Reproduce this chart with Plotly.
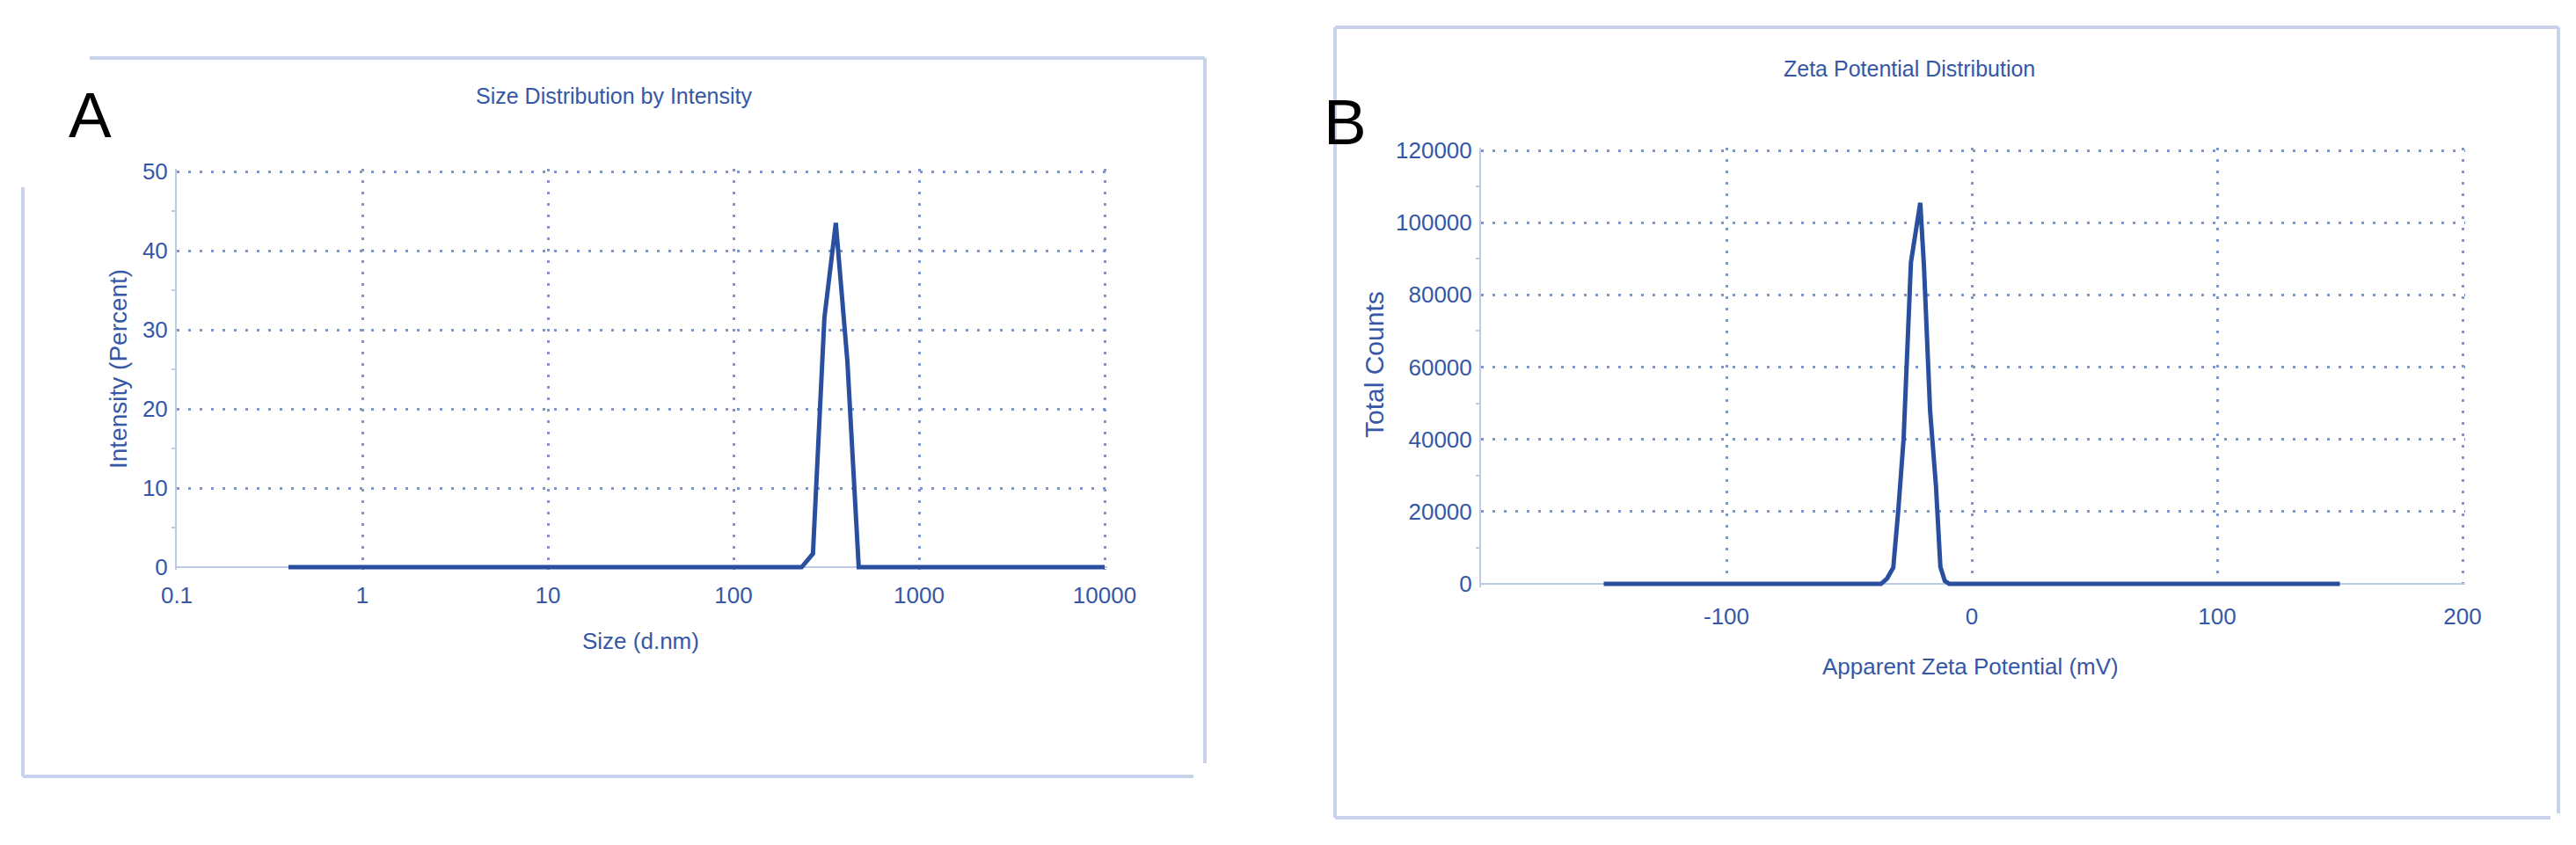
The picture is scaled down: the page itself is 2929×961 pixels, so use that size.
import plotly.graph_objects as go

# ---- data ----
# A: size distribution by intensity (log x)
size_nm = [0.4, 1, 10, 100, 233, 268, 309, 356, 411, 473, 1000, 10000]
intensity_pct = [0, 0, 0, 0, 0, 1.7, 31.5, 43.5, 26.0, 0, 0, 0]
size_ticks = [0.1, 1, 10, 100, 1000, 10000]
size_tick_text = ["0.1", "1", "10", "100", "1000", "10000"]
intensity_ticks = [0, 10, 20, 30, 40, 50]

# B: zeta potential distribution
zeta_mv = [-150, -37, -34.5, -32, -30, -27.8, -24.8, -22.5, -21, -19.5, -17, -14.6, -12.8, -11, -9.2, 150]
total_counts = [0, 0, 1500, 4500, 20000, 40000, 89000, 100000, 105500, 88000, 48000, 27000, 4700, 800, 0, 0]
zeta_ticks = [-100, 0, 100, 200]
zeta_tick_text = ["-100", "0", "100", "200"]
count_ticks = [0, 20000, 40000, 60000, 80000, 100000, 120000]
count_tick_text = ["0", "20000", "40000", "60000", "80000", "100000", "120000"]

W, H = 2929, 961
OFF = 8  # the page body adds an 8px margin, so positions are shifted back by it

def px(x):
    return (x - OFF) / W

def py(y):
    return 1 - (y - OFF) / H

LINE = "#2a4f9f"
TEXT = "#3557a6"
GRID = "#7f96cc"
AXIS = "#bccae6"
FRAME = "#c8d2ea"
FONT = "Liberation Sans, Arial, sans-serif"

fig = go.Figure()
fig.add_trace(go.Scatter(x=size_nm, y=intensity_pct, mode="lines",
                         line=dict(color=LINE, width=5), xaxis="x", yaxis="y",
                         showlegend=False, hoverinfo="x+y"))
fig.add_trace(go.Scatter(x=zeta_mv, y=total_counts, mode="lines",
                         line=dict(color=LINE, width=5), xaxis="x2", yaxis="y2",
                         showlegend=False, hoverinfo="x+y"))

# plot boxes in pixels: A x 0.1 -> 201, 10000 -> 1256 ; y 50 -> 195, 0 -> 645
#                       B x -200 -> 1684, 200 -> 2800 ; y 120000 -> 171, 0 -> 664
# ranges are padded a little so the edge grid lines and the zero-level trace are not clipped
xA0, xA1 = 201, 1256
dec = (xA1 - xA0) / 5
xA_pad = 0.012
yA_lo, yA_hi = -0.35, 50.3
yApp = 450 / 50
xB0, xB1 = 1684, 2800
xB_lo, xB_hi = -200, 201
xBpp = (xB1 - xB0) / 400
yB0, yB1 = 664, 171
yB_lo, yB_hi = -900, 120700
yBpp = (yB0 - yB1) / 120000

common = dict(showgrid=True, gridcolor=GRID, gridwidth=3, griddash="3px,10px",
              tickfont=dict(family=FONT, size=26, color=TEXT), ticks="", automargin=False)

fig.update_layout(
    width=W, height=H,
    margin=dict(l=0, r=0, t=0, b=0, autoexpand=False),
    paper_bgcolor="white", plot_bgcolor="white",
    showlegend=False,
    xaxis=dict(domain=[px(xA0), px(xA1 + xA_pad * dec)], anchor="y", type="log",
               range=[-1, 4 + xA_pad],
               tickmode="array", tickvals=size_ticks, ticktext=size_tick_text,
               showline=False, zeroline=False, ticklabelstandoff=11, **common),
    yaxis=dict(domain=[py(645 - yA_lo * yApp), py(195 - (yA_hi - 50) * yApp)], anchor="x",
               range=[yA_lo, yA_hi],
               tickmode="array", tickvals=intensity_ticks,
               showline=True, linecolor=AXIS, linewidth=2,
               zeroline=True, zerolinecolor=AXIS, zerolinewidth=2,
               ticklabelstandoff=3,
               minor=dict(tickmode="linear", tick0=5, dtick=10, ticks="outside",
                          ticklen=4, tickcolor=AXIS, tickwidth=2, showgrid=False),
               **common),
    xaxis2=dict(domain=[px(xB0), px(xB1 + (xB_hi - 200) * xBpp)], anchor="y2",
                range=[xB_lo, xB_hi],
                tickmode="array", tickvals=zeta_ticks, ticktext=zeta_tick_text,
                showline=False, zeroline=False, ticklabelstandoff=15, **common),
    yaxis2=dict(domain=[py(yB0 - yB_lo * yBpp), py(yB1 - (yB_hi - 120000) * yBpp)], anchor="x2",
                range=[yB_lo, yB_hi],
                tickmode="array", tickvals=count_ticks, ticktext=count_tick_text,
                showline=True, linecolor=AXIS, linewidth=2,
                zeroline=True, zerolinecolor=AXIS, zerolinewidth=2,
                ticklabelstandoff=3,
                minor=dict(tickmode="linear", tick0=10000, dtick=20000, ticks="outside",
                           ticklen=4, tickcolor=AXIS, tickwidth=2, showgrid=False),
                **common),
)

# light blue frames around the two screenshots
frames = [
    (102, 66, 1370, 66), (1370, 66, 1370, 868), (26, 883, 1357, 883), (26, 213, 26, 883),
    (1518, 31, 2909, 31), (2909, 31, 2909, 925), (1518, 930, 2900, 930), (1518, 31, 1518, 930),
]
for x0, y0, x1, y1 in frames:
    fig.add_shape(type="line", xref="paper", yref="paper",
                  x0=px(x0), y0=py(y0), x1=px(x1), y1=py(y1),
                  line=dict(color=FRAME, width=4), layer="below")

def note(text, x, y, size, color=TEXT, angle=0):
    fig.add_annotation(text=text, x=px(x), y=py(y), xref="paper", yref="paper",
                       xanchor="center", yanchor="middle", showarrow=False,
                       textangle=angle, font=dict(family=FONT, size=size, color=color))

note("A", 102, 130, 73, color="black")
note("B", 1530, 139, 73, color="black")
note("Size Distribution by Intensity", 698, 109, 25)
note("Zeta Potential Distribution", 2171, 78, 25)
note("Size (d.nm)", 728, 729, 26)
note("Apparent Zeta Potential (mV)", 2240, 758, 26)
note("Intensity (Percent)", 135, 420, 28, angle=-90)
note("Total Counts", 1562, 414, 30, angle=-90)

fig.write_html("out.html")
